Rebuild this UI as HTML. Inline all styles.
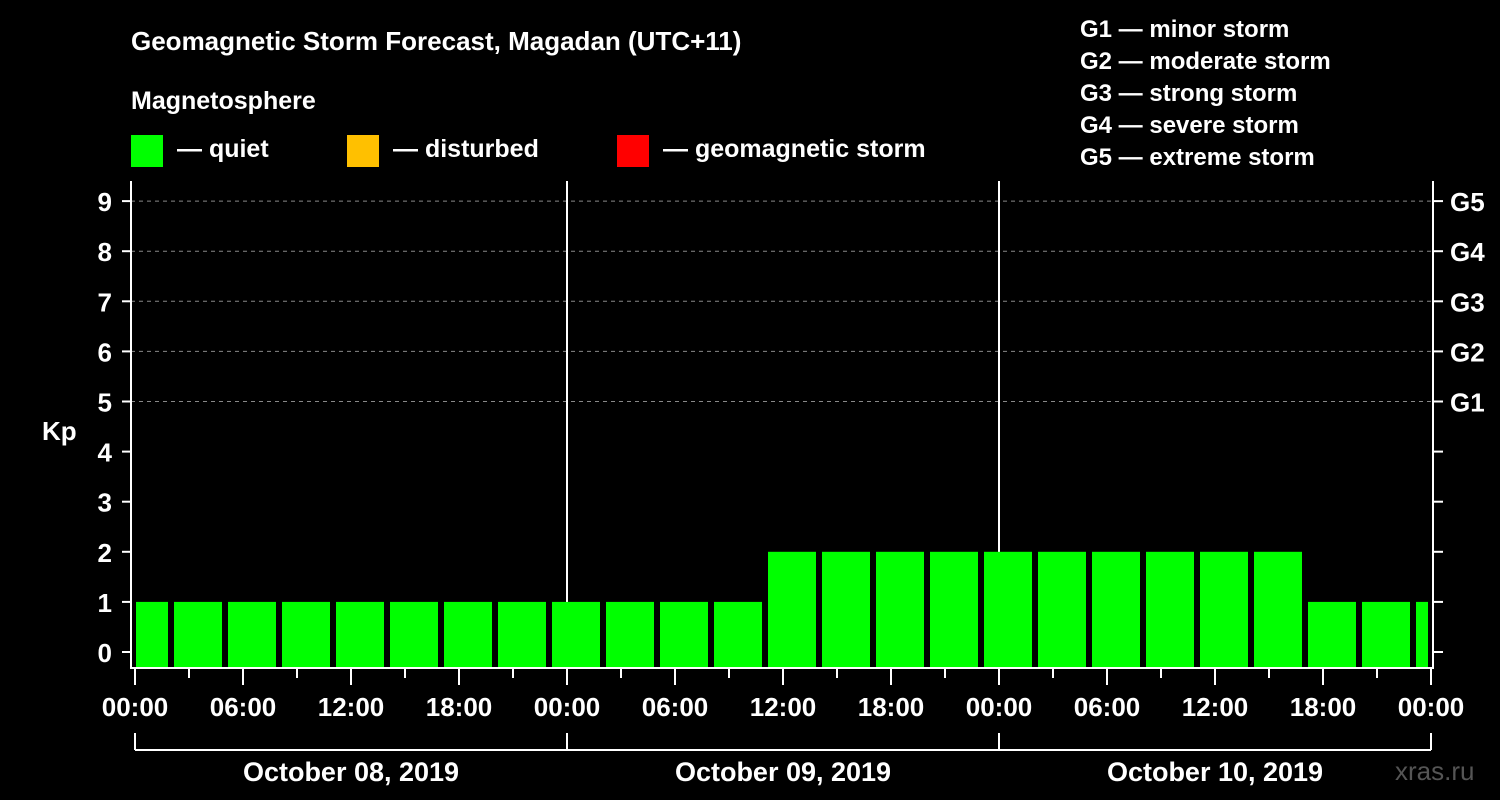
<!DOCTYPE html>
<html><head><meta charset="utf-8"><style>
html,body{margin:0;padding:0;background:#000;}
svg{display:block;font-family:"Liberation Sans",Arial,sans-serif;font-weight:bold;}
</style></head><body>
<svg width="1500" height="800" viewBox="0 0 1500 800">
<rect width="1500" height="800" fill="#000"/>
<text x="131" y="50" fill="#fff" font-size="26">Geomagnetic Storm Forecast, Magadan (UTC+11)</text>
<text x="131" y="109" fill="#fff" font-size="25">Magnetosphere</text>
<g><rect x="131" y="135" width="32" height="32" fill="#00ff00"/><text x="177" y="157" fill="#fff" font-size="25">— quiet</text></g>
<g><rect x="347" y="135" width="32" height="32" fill="#ffc000"/><text x="393" y="157" fill="#fff" font-size="25">— disturbed</text></g>
<g><rect x="617" y="135" width="32" height="32" fill="#ff0000"/><text x="663" y="157" fill="#fff" font-size="25">— geomagnetic storm</text></g>
<g fill="#fff" font-size="24">
<text x="1080" y="37">G1 — minor storm</text>
<text x="1080" y="69">G2 — moderate storm</text>
<text x="1080" y="101">G3 — strong storm</text>
<text x="1080" y="133">G4 — severe storm</text>
<text x="1080" y="165">G5 — extreme storm</text>
</g>
<text x="42" y="440" fill="#fff" font-size="26">Kp</text>
<text x="1395" y="780" fill="#555" font-size="26" font-weight="normal">xras.ru</text>
<g id="plot"></g>
</svg>
<script>
const kpValues=[1,1,1,1,1,1,1,1,1,1,1,1,2,2,2,2,2,2,2,2,2,2,1,1,1];
const yTicks=[0,1,2,3,4,5,6,7,8,9];
const gLabels=["G1","G2","G3","G4","G5"];
const xTickLabels=["00:00","06:00","12:00","18:00","00:00","06:00","12:00","18:00","00:00","06:00","12:00","18:00","00:00"];
const dayLabels=["October 08, 2019","October 09, 2019","October 10, 2019"];
const NS="http://www.w3.org/2000/svg";
const g=document.getElementById('plot');
const x=h=>135+h*18;
const y=v=>652-v*50.1;
function el(t,a,p){const e=document.createElementNS(NS,t);for(const k in a)e.setAttribute(k,a[k]);(p||g).appendChild(e);return e;}
// grid
for(let v=5;v<=9;v++){const l=el('line',{x1:131,x2:1433,y1:y(v),y2:y(v),stroke:'#888','stroke-dasharray':'4,4','stroke-width':1});

}
// day separators
[24,48].forEach(h=>{const l=el('line',{x1:x(h),x2:x(h),y1:181,y2:668,stroke:'#fff','stroke-width':2});

});
// bars
kpValues.forEach((v,k)=>{let x0=x(3*k-1)+3,x1=x(3*k+2)-3;x0=Math.max(x0,x(0)+1);x1=Math.min(x1,x(72)-3);
const r=el('rect',{x:x0,y:y(v),width:x1-x0,height:668-y(v),fill:v>=5?'#ff0000':(v>=4?'#ffc000':'#00ff00')});

});
// axes frame
const f=el('path',{d:'M131 181 L131 668 L1433 668 L1433 181',fill:'none',stroke:'#fff','stroke-width':2});


// y ticks
yTicks.forEach(v=>{el('line',{x1:122,x2:131,y1:y(v),y2:y(v),stroke:'#fff','stroke-width':2});el('line',{x1:1433,x2:1443,y1:y(v),y2:y(v),stroke:'#fff','stroke-width':2});
const t=el('text',{x:112,y:y(v)+10,fill:'#fff','font-size':26,'text-anchor':'end'});t.textContent=v;

});
gLabels.forEach((s,i)=>{const t=el('text',{x:1450,y:y(5+i)+10,fill:'#fff','font-size':26});t.textContent=s;

});
// x ticks
for(let h=0;h<=72;h+=3){const long=h%6===0;el('line',{x1:x(h),x2:x(h),y1:668,y2:long?685:678,stroke:'#fff','stroke-width':2});}
xTickLabels.forEach((s,i)=>{const t=el('text',{x:x(i*6),y:716,fill:'#fff','font-size':26,'text-anchor':'middle'});t.textContent=s;

});
// day bracket
el('line',{x1:x(0),x2:x(72),y1:750,y2:750,stroke:'#fff','stroke-width':2});
[0,24,48,72].forEach(h=>el('line',{x1:x(h),x2:x(h),y1:733,y2:750,stroke:'#fff','stroke-width':2}));
dayLabels.forEach((s,i)=>{const t=el('text',{x:x(i*24+12),y:781,fill:'#fff','font-size':27,'text-anchor':'middle'});t.textContent=s;

});
</script>
</body></html>
